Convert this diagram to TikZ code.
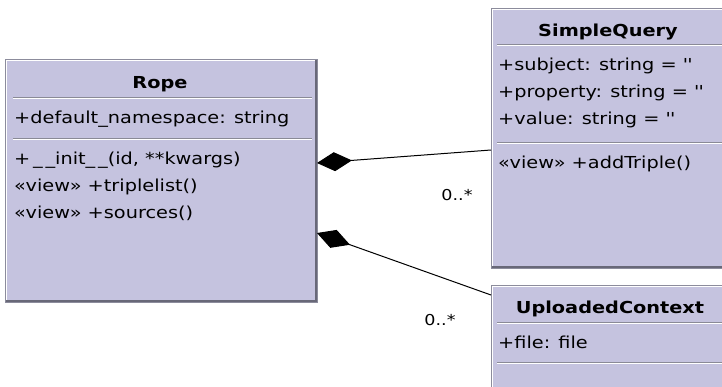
\documentclass[tikz,border=0pt]{standalone}
\usepackage{fontspec}
\setmainfont{DejaVu Sans}[FakeStretch=1.17]
\usetikzlibrary{arrows.meta}
\definecolor{classfill}{RGB}{197,195,223}
\definecolor{classedge}{RGB}{140,140,156}
\definecolor{classshade}{RGB}{104,104,120}
\definecolor{rulegray}{RGB}{138,138,150}
\tikzset{
  classbox/.style={draw=classedge, fill=classfill, line width=1pt,
    inner sep=0pt, outer sep=0pt, anchor=north west},
  hilite/.style={white, line width=1pt},
  shade/.style={classshade, line width=2pt},
  rulea/.style={rulegray, line width=1pt},
  ruleb/.style={white, line width=1pt},
  member/.style={anchor=base west, inner sep=0pt, font=\fontsize{16.5}{18}\selectfont},
  title/.style={anchor=base, inner sep=0pt, font=\fontsize{16.5}{18}\selectfont\bfseries},
  mult/.style={anchor=center, inner sep=0pt, font=\fontsize{15}{17}\selectfont},
  composition/.style={line width=1pt, -{Diamond[length=35pt,width=19pt,fill=black]}}
}
% 3D frame of a class box: light inner edge top-left, dark shade bottom-right
\newcommand\classframe[1]{%
  \draw[hilite] ([xshift=1.5pt,yshift=2pt]#1.south west) -- ([xshift=1.5pt,yshift=-1.5pt]#1.north west)
    -- ([xshift=-2pt,yshift=-1.5pt]#1.north east);
  \draw[shade] ([xshift=-1.5pt,yshift=-1pt]#1.north east) -- ([xshift=-1.5pt,yshift=1.5pt]#1.south east)
    -- ([xshift=1pt,yshift=1.5pt]#1.south west);
}
% compartment divider: etched line
\newcommand\divider[3]{%
  \draw[rulea] (#1,#3) -- (#2,#3);
  \draw[ruleb] (#1,#3+1) -- (#2,#3+1);
}
\begin{document}
\begin{tikzpicture}[x=1pt,y=-1pt]
\useasboundingbox (0,0) rectangle (722,386);
\clip (0,0) rectangle (722,386);
\fill[white] (0,0) rectangle (722,386);

% Rope
\node[classbox, minimum width=312pt, minimum height=243pt] (rope) at (5,59) {};
\classframe{rope}
\node[title] (ropet) at (160,88) {Rope};
\divider{13}{312}{97}
\node[member] (ropea) at (14,123) {+default\_namespace: string};
\divider{13}{312}{138}
\node[member] (ropem1) at (14,164) {+\,\_\,\_init\_\,\_(id, **kwargs)};
\node[member] (ropem2) at (14,191) {«view» +triplelist()};
\node[member] (ropem3) at (14,218) {«view» +sources()};

% SimpleQuery
\node[classbox, minimum width=236pt, minimum height=260pt] (sq) at (491,8) {};
\classframe{sq}
\node[title] (sqt) at (608,36) {SimpleQuery};
\divider{497}{724}{44}
\node[member] (sqa1) at (498,70) {+subject: string = \textquotesingle\textquotesingle};
\node[member] (sqa2) at (498,97) {+property: string = \textquotesingle\textquotesingle};
\node[member] (sqa3) at (498,124) {+value: string = \textquotesingle\textquotesingle};
\divider{497}{724}{142}
\node[member] (sqm1) at (498,168) {«view» +addTriple()};

% UploadedContext
\node[classbox, minimum width=236pt, minimum height=120pt] (uc) at (491,285) {};
\classframe{uc}
\node[title] (uct) at (610,313) {UploadedContext};
\divider{497}{724}{322}
\node[member] (uca) at (498,348) {+file: file};
\divider{497}{724}{362}

% compositions
\coordinate (sqend) at (491,150);
\coordinate (ropeend1) at (317,163);
\coordinate (ucend) at (491,295);
\coordinate (ropeend2) at (317,233);
\draw[composition] (sq.west |- sqend) -- (rope.east |- ropeend1);
\draw[composition] (uc.west |- ucend) -- (rope.east |- ropeend2);
\node[mult] (m1) at (457,195) {0..*};
\node[mult] (m2) at (440,320) {0..*};
\end{tikzpicture}
\end{document}
